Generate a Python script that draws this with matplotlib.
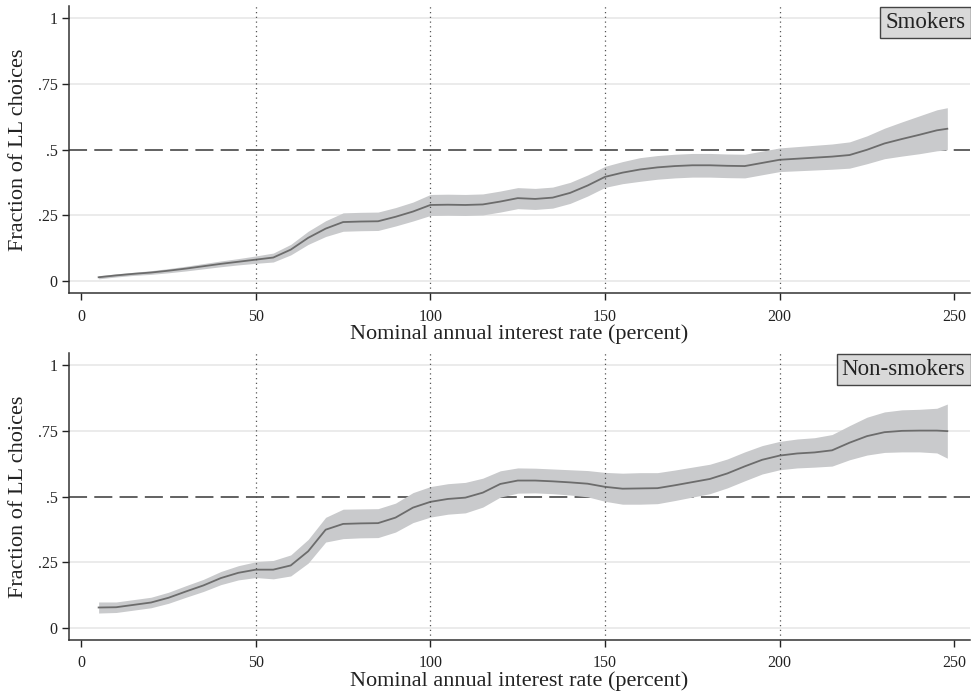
import matplotlib
matplotlib.use("Agg")
import matplotlib.pyplot as plt

# interest-rate grid (percent) and local-poly fits with CI half-widths
rate = [5, 10, 15, 20, 25, 30, 35, 40, 45, 50, 55, 60, 65, 70, 75, 80, 85, 90, 95, 100,
        105, 110, 115, 120, 125, 130, 135, 140, 145, 150, 155, 160, 165, 170, 175, 180,
        185, 190, 195, 200, 205, 210, 215, 220, 225, 230, 235, 240, 245, 248]

smk_mean = [0.015, 0.022, 0.028, 0.033, 0.040, 0.048, 0.057, 0.066, 0.074, 0.082,
            0.090, 0.120, 0.165, 0.200, 0.225, 0.227, 0.228, 0.245, 0.265, 0.290,
            0.291, 0.290, 0.292, 0.303, 0.316, 0.313, 0.318, 0.336, 0.364, 0.397,
            0.413, 0.425, 0.433, 0.438, 0.441, 0.441, 0.439, 0.438, 0.450, 0.462,
            0.466, 0.470, 0.474, 0.480, 0.500, 0.524, 0.541, 0.557, 0.574, 0.580]
smk_ci = [0.006, 0.006, 0.006, 0.007, 0.008, 0.009, 0.010, 0.011, 0.012, 0.014,
          0.017, 0.020, 0.025, 0.030, 0.035, 0.035, 0.035, 0.035, 0.036, 0.040,
          0.040, 0.040, 0.040, 0.040, 0.040, 0.040, 0.040, 0.040, 0.040, 0.040,
          0.042, 0.045, 0.045, 0.045, 0.045, 0.045, 0.045, 0.045, 0.045, 0.045,
          0.046, 0.047, 0.048, 0.050, 0.053, 0.058, 0.065, 0.072, 0.078, 0.080]

non_mean = [0.078, 0.079, 0.088, 0.097, 0.115, 0.139, 0.162, 0.190, 0.210, 0.222,
            0.222, 0.238, 0.292, 0.374, 0.396, 0.398, 0.399, 0.420, 0.458, 0.480,
            0.491, 0.496, 0.515, 0.548, 0.561, 0.561, 0.558, 0.554, 0.549, 0.537,
            0.530, 0.531, 0.532, 0.543, 0.555, 0.567, 0.588, 0.615, 0.640, 0.656,
            0.664, 0.668, 0.676, 0.705, 0.730, 0.745, 0.750, 0.751, 0.751, 0.749]
non_ci = [0.021, 0.020, 0.020, 0.020, 0.021, 0.022, 0.023, 0.025, 0.027, 0.030,
          0.035, 0.040, 0.045, 0.047, 0.056, 0.055, 0.055, 0.055, 0.057, 0.058,
          0.058, 0.058, 0.055, 0.050, 0.048, 0.047, 0.047, 0.048, 0.050, 0.055,
          0.059, 0.060, 0.059, 0.058, 0.057, 0.056, 0.055, 0.055, 0.054, 0.054,
          0.055, 0.056, 0.060, 0.065, 0.072, 0.077, 0.080, 0.081, 0.085, 0.103]

panels = [("Smokers", smk_mean, smk_ci), ("Non-smokers", non_mean, non_ci)]
xticks = [0, 50, 100, 150, 200, 250]
yticks = [0, 0.25, 0.5, 0.75, 1]
ylabels = ["0", ".25", ".5", ".75", "1"]

plt.rcParams["font.family"] = ["Liberation Serif", "DejaVu Serif"]
INK = "#222222"

fig = plt.figure(figsize=(9.71, 6.95), dpi=100)
boxes = [[0.071, 0.578, 0.928, 0.413], [0.071, 0.079, 0.928, 0.413]]

for rect, (name, mean, ci) in zip(boxes, panels):
    ax = fig.add_axes(rect)
    lo = [m - c for m, c in zip(mean, ci)]
    hi = [m + c for m, c in zip(mean, ci)]
    for yv in [0, 0.25, 0.75, 1]:
        ax.axhline(yv, color="#e8e8e8", lw=1.2, zorder=0)
    ax.axhline(0.5, color="#555555", lw=1.3, dashes=(10, 4), zorder=1)
    ax.fill_between(rate, lo, hi, color="#c9cacc", lw=0, zorder=2)
    ax.plot(rate, mean, color="#6c6c6c", lw=1.3, zorder=3)
    for xv in [50, 100, 150, 200]:
        ax.axvline(xv, color="#555555", lw=0.9, ls=(0, (1, 2.8)), zorder=4)

    ax.set_xlim(-3.5, 254.5)
    ax.set_ylim(-0.046, 1.046)
    ax.set_xticks(xticks)
    ax.set_yticks(yticks)
    ax.set_yticklabels(ylabels)
    ax.tick_params(direction="out", length=5, width=1, colors=INK, labelsize=11.5)
    ax.tick_params(axis="x", pad=6)
    ax.tick_params(axis="y", pad=3)
    for s in ["top", "right"]:
        ax.spines[s].set_visible(False)
    for s in ["left", "bottom"]:
        ax.spines[s].set_color("#333333")
        ax.spines[s].set_linewidth(1.1)
    ax.set_xlabel("Nominal annual interest rate (percent)", fontsize=16, color=INK, labelpad=0)
    ax.set_ylabel("Fraction of LL choices", fontsize=16, color=INK, labelpad=7)
    ax.text(0.995, 0.98, name, transform=ax.transAxes, ha="right", va="top",
            fontsize=16.5, color=INK,
            bbox=dict(boxstyle="square,pad=0.22", facecolor="#d9d9d9", edgecolor="#444444", lw=1.0))

fig.savefig("out.png", dpi=100)
